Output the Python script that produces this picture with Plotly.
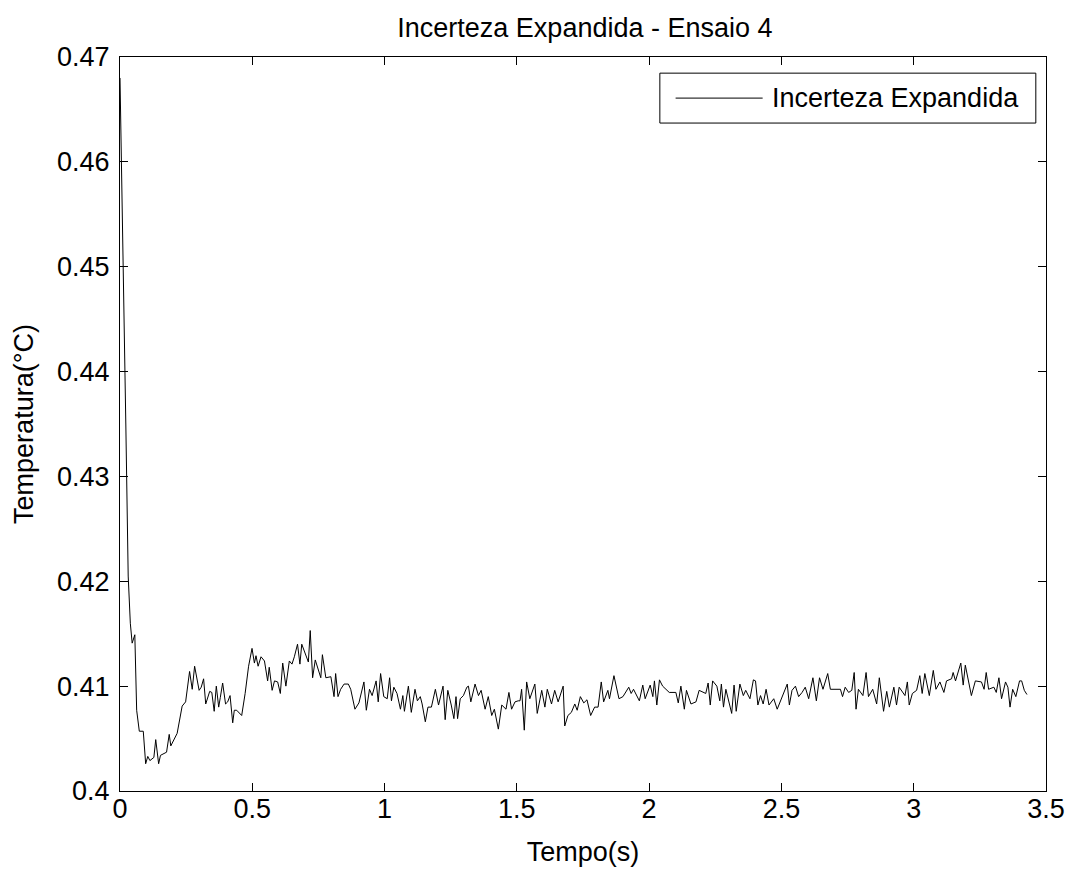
import plotly.graph_objects as go

# Expanded uncertainty over time (seconds), test run 4
tempo_s = [
    0.000, 0.008, 0.015, 0.022, 0.031, 0.039, 0.046, 0.056, 0.063, 0.073,
    0.088, 0.097, 0.105, 0.113, 0.128, 0.135, 0.146, 0.153, 0.176, 0.186,
    0.192, 0.216, 0.235, 0.248, 0.263, 0.273, 0.282, 0.299, 0.307, 0.316,
    0.324, 0.339, 0.347, 0.356, 0.364, 0.373, 0.379, 0.388, 0.399, 0.407,
    0.416, 0.426, 0.432, 0.441, 0.460, 0.473, 0.486, 0.499, 0.508, 0.514,
    0.522, 0.533, 0.546, 0.558, 0.564, 0.575, 0.584, 0.596, 0.606, 0.615,
    0.627, 0.640, 0.650, 0.659, 0.671, 0.680, 0.687, 0.699, 0.712, 0.719,
    0.728, 0.738, 0.759, 0.765, 0.778, 0.797, 0.809, 0.815, 0.824, 0.834,
    0.847, 0.863, 0.872, 0.888, 0.903, 0.922, 0.931, 0.943, 0.953, 0.968,
    0.976, 0.985, 0.997, 1.010, 1.019, 1.026, 1.035, 1.047, 1.060, 1.069,
    1.075, 1.090, 1.101, 1.115, 1.124, 1.135, 1.142, 1.154, 1.164, 1.177,
    1.192, 1.204, 1.221, 1.229, 1.239, 1.252, 1.262, 1.270, 1.276, 1.286,
    1.298, 1.311, 1.317, 1.326, 1.342, 1.355, 1.365, 1.380, 1.392, 1.405,
    1.415, 1.430, 1.443, 1.459, 1.470, 1.480, 1.493, 1.505, 1.512, 1.518,
    1.528, 1.537, 1.549, 1.568, 1.577, 1.594, 1.606, 1.615, 1.631, 1.643,
    1.656, 1.675, 1.681, 1.693, 1.706, 1.719, 1.728, 1.740, 1.753, 1.765,
    1.779, 1.794, 1.807, 1.819, 1.828, 1.844, 1.850, 1.867, 1.886, 1.901,
    1.923, 1.932, 1.941, 1.963, 1.976, 1.985, 2.004, 2.014, 2.020, 2.029,
    2.039, 2.051, 2.064, 2.076, 2.101, 2.110, 2.120, 2.133, 2.141, 2.158,
    2.177, 2.189, 2.214, 2.223, 2.231, 2.240, 2.256, 2.267, 2.273, 2.281,
    2.290, 2.302, 2.312, 2.321, 2.329, 2.343, 2.356, 2.365, 2.381, 2.394,
    2.402, 2.411, 2.421, 2.431, 2.442, 2.453, 2.471, 2.484, 2.496, 2.509,
    2.522, 2.530, 2.540, 2.553, 2.565, 2.578, 2.590, 2.603, 2.619, 2.632,
    2.644, 2.657, 2.675, 2.685, 2.710, 2.723, 2.731, 2.741, 2.754, 2.766,
    2.775, 2.782, 2.791, 2.808, 2.820, 2.829, 2.845, 2.860, 2.870, 2.886,
    2.898, 2.908, 2.925, 2.935, 2.945, 2.967, 2.976, 2.983, 2.995, 3.011,
    3.023, 3.032, 3.042, 3.059, 3.074, 3.084, 3.099, 3.114, 3.124, 3.143,
    3.149, 3.158, 3.178, 3.187, 3.195, 3.218, 3.233, 3.256, 3.266, 3.274,
    3.283, 3.303, 3.312, 3.322, 3.332, 3.347, 3.356, 3.364, 3.374, 3.386,
    3.400, 3.408, 3.418, 3.428,
]

incerteza_c = [
    0.4680, 0.4570, 0.4470, 0.4350, 0.4205, 0.4160, 0.4141, 0.4149, 0.4077, 0.4057,
    0.4057, 0.4026, 0.4033, 0.4029, 0.4032, 0.4049, 0.4026, 0.4034, 0.4037, 0.4054,
    0.4043, 0.4055, 0.4081, 0.4085, 0.4114, 0.4097, 0.4119, 0.4096, 0.4099, 0.4107,
    0.4083, 0.4095, 0.4094, 0.4076, 0.4100, 0.4080, 0.4089, 0.4103, 0.4083, 0.4085,
    0.4091, 0.4065, 0.4077, 0.4077, 0.4072, 0.4093, 0.4119, 0.4136, 0.4122, 0.4129,
    0.4119, 0.4128, 0.4124, 0.4105, 0.4118, 0.4096, 0.4105, 0.4104, 0.4093, 0.4122,
    0.4100, 0.4124, 0.4121, 0.4128, 0.4140, 0.4121, 0.4140, 0.4132, 0.4123, 0.4153,
    0.4108, 0.4125, 0.4108, 0.4130, 0.4108, 0.4109, 0.4090, 0.4112, 0.4090, 0.4097,
    0.4102, 0.4102, 0.4097, 0.4078, 0.4084, 0.4104, 0.4077, 0.4097, 0.4091, 0.4105,
    0.4085, 0.4112, 0.4090, 0.4088, 0.4108, 0.4086, 0.4099, 0.4093, 0.4078, 0.4091,
    0.4076, 0.4100, 0.4075, 0.4097, 0.4086, 0.4090, 0.4083, 0.4066, 0.4080, 0.4080,
    0.4097, 0.4082, 0.4100, 0.4068, 0.4096, 0.4082, 0.4069, 0.4090, 0.4069, 0.4088,
    0.4091, 0.4099, 0.4100, 0.4085, 0.4102, 0.4091, 0.4096, 0.4078, 0.4090, 0.4072,
    0.4078, 0.4059, 0.4082, 0.4078, 0.4094, 0.4078, 0.4085, 0.4086, 0.4086, 0.4097,
    0.4058, 0.4104, 0.4088, 0.4102, 0.4074, 0.4096, 0.4080, 0.4097, 0.4083, 0.4096,
    0.4085, 0.4100, 0.4062, 0.4072, 0.4075, 0.4083, 0.4077, 0.4090, 0.4084, 0.4087,
    0.4072, 0.4080, 0.4080, 0.4104, 0.4085, 0.4096, 0.4088, 0.4110, 0.4088, 0.4090,
    0.4099, 0.4093, 0.4097, 0.4086, 0.4101, 0.4088, 0.4101, 0.4090, 0.4105, 0.4082,
    0.4106, 0.4100, 0.4097, 0.4094, 0.4094, 0.4084, 0.4100, 0.4078, 0.4096, 0.4083,
    0.4085, 0.4096, 0.4093, 0.4103, 0.4082, 0.4105, 0.4100, 0.4086, 0.4102, 0.4080,
    0.4097, 0.4083, 0.4074, 0.4101, 0.4076, 0.4102, 0.4091, 0.4096, 0.4088, 0.4106,
    0.4105, 0.4082, 0.4091, 0.4083, 0.4097, 0.4082, 0.4088, 0.4078, 0.4086, 0.4093,
    0.4102, 0.4082, 0.4096, 0.4100, 0.4090, 0.4094, 0.4099, 0.4088, 0.4108, 0.4086,
    0.4108, 0.4097, 0.4112, 0.4097, 0.4097, 0.4097, 0.4090, 0.4099, 0.4094, 0.4096,
    0.4113, 0.4078, 0.4097, 0.4091, 0.4113, 0.4090, 0.4097, 0.4083, 0.4108, 0.4076,
    0.4095, 0.4080, 0.4099, 0.4082, 0.4099, 0.4091, 0.4104, 0.4082, 0.4093, 0.4096,
    0.4110, 0.4093, 0.4112, 0.4091, 0.4115, 0.4097, 0.4104, 0.4094, 0.4105, 0.4107,
    0.4113, 0.4105, 0.4122, 0.4101, 0.4120, 0.4091, 0.4105, 0.4104, 0.4097, 0.4113,
    0.4097, 0.4099, 0.4094, 0.4108, 0.4088, 0.4104, 0.4099, 0.4080, 0.4097, 0.4090,
    0.4105, 0.4105, 0.4096, 0.4092,
]

x_ticks = [0, 0.5, 1, 1.5, 2, 2.5, 3, 3.5]
x_tick_labels = ["0", "0.5", "1", "1.5", "2", "2.5", "3", "3.5"]
y_ticks = [0.40, 0.41, 0.42, 0.43, 0.44, 0.45, 0.46, 0.47]
y_tick_labels = ["0.4", "0.41", "0.42", "0.43", "0.44", "0.45", "0.46", "0.47"]

series_name = "Incerteza Expandida"
FONT = "Liberation Sans, Arial, sans-serif"
FS = 27

fig = go.Figure()
fig.add_trace(go.Scatter(
    x=tempo_s, y=incerteza_c, mode="lines", name=series_name,
    line=dict(color="black", width=1), showlegend=False,
))

axis_common = dict(
    showline=True, linecolor="black", linewidth=1, mirror="allticks",
    ticks="inside", ticklen=8, tickcolor="black", tickwidth=1,
    showgrid=False, zeroline=False,
    tickfont=dict(family=FONT, size=FS, color="black"),
)

fig.update_layout(
    width=1077, height=873,
    margin=dict(l=120, r=27, t=57, b=79),
    paper_bgcolor="white", plot_bgcolor="white",
    font=dict(family=FONT, size=FS, color="black"),
    title=dict(text="Incerteza Expandida - Ensaio 4", x=0.5431, xanchor="center",
               y=0.968, yanchor="middle", font=dict(family=FONT, size=FS)),
    xaxis=dict(range=[0, 3.5], tickvals=x_ticks, ticktext=x_tick_labels,
               ticklabelstandoff=-6,
               title=dict(text="Tempo(s)", standoff=18,
                          font=dict(family=FONT, size=FS)),
               **axis_common),
    yaxis=dict(range=[0.40, 0.47], tickvals=y_ticks, ticktext=y_tick_labels,
               ticklabelstandoff=4,
               title=dict(text="Temperatura(°C)", standoff=15,
                          font=dict(family=FONT, size=FS)),
               **axis_common),
)

# Legend box drawn in the upper-right corner of the axes
fig.add_shape(type="rect", xref="paper", yref="paper",
              x0=0.583, x1=0.989, y0=0.910, y1=0.978,
              line=dict(color="black", width=1), fillcolor="white", layer="above")
fig.add_shape(type="line", xref="paper", yref="paper",
              x0=0.600, x1=0.694, y0=0.944, y1=0.944,
              line=dict(color="black", width=1), layer="above")
fig.add_annotation(text=series_name, xref="paper", yref="paper",
                   x=0.702, y=0.944, xanchor="left", yanchor="middle",
                   showarrow=False, font=dict(family=FONT, size=FS, color="black"))

fig.write_html("out.html")
